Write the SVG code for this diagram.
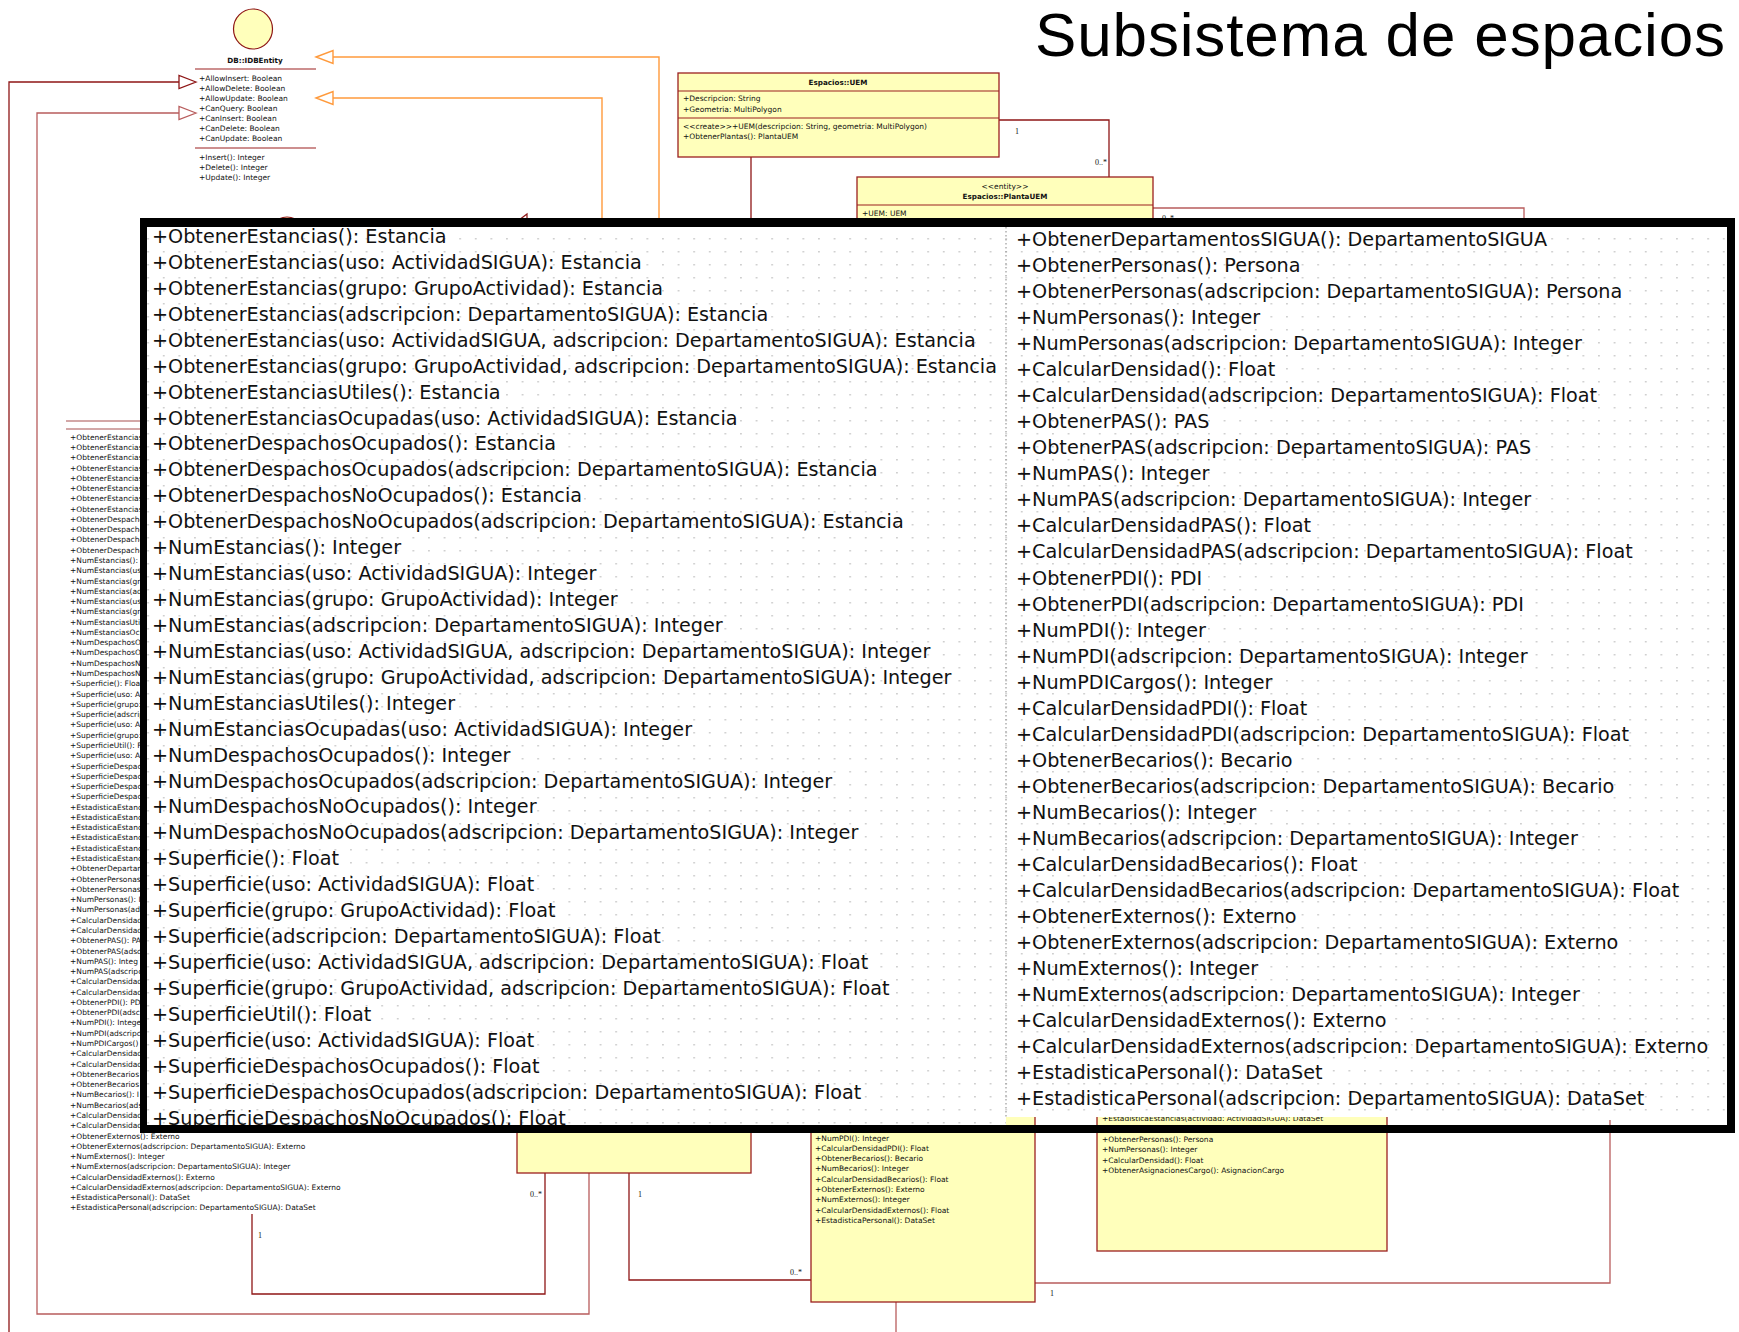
<svg xmlns="http://www.w3.org/2000/svg" width="1739" height="1332" viewBox="0 0 1739 1332">
<style>
.s{font-family:"DejaVu Sans",Verdana,sans-serif;font-size:7.5px;fill:#111}
.sb{font-family:"DejaVu Sans",Verdana,sans-serif;font-size:7.2px;font-weight:bold;fill:#111}
.ml{font-family:"Liberation Serif","Times New Roman",serif;font-size:8px;fill:#111}
.box{fill:#FFFFBB;stroke:#9b2020;stroke-width:1.3}
.sep{stroke:#9b2020;stroke-width:1.2}
.dk{fill:none;stroke:#8e1616;stroke-width:1.3}
.lt{fill:none;stroke:#b85c5c;stroke-width:1.3}
.or{fill:none;stroke:#FF9A3C;stroke-width:1.4}
.ov{font-family:"DejaVu Sans",Verdana,sans-serif;font-size:19.2px;fill:#111}
</style>
<defs>
<pattern id="dots" width="15.6" height="13" patternUnits="userSpaceOnUse"><rect x="7" y="4" width="1.5" height="1.5" fill="#c4c4c4"/></pattern>
<clipPath id="leftcut"><rect x="0" y="380" width="140" height="760"/></clipPath>
</defs>

<g id="title"><text x="1035" y="56" textLength="690" lengthAdjust="spacing" style="font-family:'Liberation Sans',Arial,sans-serif;font-size:62px;fill:#000">Subsistema de espacios</text></g>

<g id="connectors">
<polyline class="or" points="659,218 659,57 333,57"/>
<polygon points="316,57 333,50.5 333,63.5" fill="#fff" stroke="#FF9A3C" stroke-width="1.4"/>
<polyline class="or" points="602,218 602,98 333,98"/>
<polygon points="316,98 333,91.5 333,104.5" fill="#fff" stroke="#FF9A3C" stroke-width="1.4"/>
<polyline class="dk" points="9,1332 9,82 179,82"/>
<polygon points="196,82 179,75.5 179,88.5" fill="#fff" stroke="#8e1616" stroke-width="1.3"/>
<polyline class="lt" points="589,1173 589,1314 37,1314 37,113 179,113"/>
<polygon points="196,113 179,106.5 179,119.5" fill="#fff" stroke="#b85c5c" stroke-width="1.3"/>
<polyline class="dk" points="252,1214 252,1294 545,1294 545,1173"/>
<text class="ml" x="258" y="1238">1</text>
<text class="ml" x="542" y="1197" text-anchor="end">0..*</text>
<polyline class="dk" points="629,1173 629,1280 811,1280"/>
<text class="ml" x="638" y="1197">1</text>
<text class="ml" x="802" y="1275" text-anchor="end">0..*</text>
<polyline class="lt" points="896,1302 896,1332"/>
<polyline class="lt" points="1035,1283 1610,1283 1610,1120"/>
<text class="ml" x="1050" y="1296">1</text>
<polyline class="dk" points="751,157 751,220"/>
<polyline class="dk" points="999,120 1109,120 1109,177"/>
<text class="ml" x="1015" y="134">1</text>
<text class="ml" x="1107" y="165" text-anchor="end">0..*</text>
<polyline class="lt" points="1153,208 1524,208 1524,220"/>
<text class="ml" x="1162" y="221">0..*</text>
<polygon points="511,226 527,214 527,238" fill="#fff" stroke="#8e1616" stroke-width="1.2"/>
</g>

<g id="db-idbentity">
<ellipse cx="253" cy="29" rx="19.5" ry="20" fill="#FFFFBB" stroke="#8e1616" stroke-width="1.2"/>
<text class="sb" x="255" y="63" text-anchor="middle">DB::IDBEntity</text>
<line class="sep" x1="195" y1="69" x2="316" y2="69"/>
<text class="s" x="199" y="80.5">+AllowInsert: Boolean</text>
<text class="s" x="199" y="90.5">+AllowDelete: Boolean</text>
<text class="s" x="199" y="100.5">+AllowUpdate: Boolean</text>
<text class="s" x="199" y="110.5">+CanQuery: Boolean</text>
<text class="s" x="199" y="120.5">+CanInsert: Boolean</text>
<text class="s" x="199" y="130.5">+CanDelete: Boolean</text>
<text class="s" x="199" y="140.5">+CanUpdate: Boolean</text>
<line class="sep" x1="195" y1="148" x2="316" y2="148"/>
<text class="s" x="199" y="160">+Insert(): Integer</text>
<text class="s" x="199" y="170">+Delete(): Integer</text>
<text class="s" x="199" y="180">+Update(): Integer</text>
</g>

<g id="other-interface">
<ellipse cx="287" cy="240" rx="20" ry="23" fill="#FFFFBB" stroke="#8e1616" stroke-width="1.2"/>
</g>

<g id="uem">
<rect class="box" x="678" y="73" width="321" height="84"/>
<text class="sb" x="838" y="85" text-anchor="middle">Espacios::UEM</text>
<line class="sep" x1="678" y1="91" x2="999" y2="91"/>
<text class="s" x="683" y="101.3">+Descripcion: String</text>
<text class="s" x="683" y="112.3">+Geometria: MultiPolygon</text>
<line class="sep" x1="678" y1="118" x2="999" y2="118"/>
<text class="s" x="683" y="129">&lt;&lt;create&gt;&gt;+UEM(descripcion: String, geometria: MultiPolygon)</text>
<text class="s" x="683" y="139">+ObtenerPlantas(): PlantaUEM</text>
</g>

<g id="planta-uem">
<rect class="box" x="857" y="177" width="296" height="60"/>
<text class="s" x="1005" y="188.5" text-anchor="middle">&lt;&lt;entity&gt;&gt;</text>
<text class="sb" x="1005" y="198.7" text-anchor="middle">Espacios::PlantaUEM</text>
<line class="sep" x1="857" y1="205" x2="1153" y2="205"/>
<text class="s" x="862" y="216">+UEM: UEM</text>
</g>

<g id="estancias-class">
<line x1="66" y1="421" x2="160" y2="421" stroke="#a85050" stroke-width="1.2"/>
<line x1="66" y1="429" x2="160" y2="429" stroke="#a85050" stroke-width="1.2"/>
<g clip-path="url(#leftcut)">
<text class="s" x="70" y="439.7"><tspan x="70" dy="0">+ObtenerEstancias</tspan><tspan x="70" dy="10.276">+ObtenerEstancias</tspan><tspan x="70" dy="10.276">+ObtenerEstancias</tspan><tspan x="70" dy="10.276">+ObtenerEstancias</tspan><tspan x="70" dy="10.276">+ObtenerEstancias</tspan><tspan x="70" dy="10.276">+ObtenerEstancias</tspan><tspan x="70" dy="10.276">+ObtenerEstancias</tspan><tspan x="70" dy="10.276">+ObtenerEstancias</tspan><tspan x="70" dy="10.276">+ObtenerDespacho</tspan><tspan x="70" dy="10.276">+ObtenerDespacho</tspan><tspan x="70" dy="10.276">+ObtenerDespacho</tspan><tspan x="70" dy="10.276">+ObtenerDespacho</tspan><tspan x="70" dy="10.276">+NumEstancias(): I</tspan><tspan x="70" dy="10.276">+NumEstancias(us</tspan><tspan x="70" dy="10.276">+NumEstancias(gr</tspan><tspan x="70" dy="10.276">+NumEstancias(ad</tspan><tspan x="70" dy="10.276">+NumEstancias(us</tspan><tspan x="70" dy="10.276">+NumEstancias(gr</tspan><tspan x="70" dy="10.276">+NumEstanciasUtil</tspan><tspan x="70" dy="10.276">+NumEstanciasOcu</tspan><tspan x="70" dy="10.276">+NumDespachosOc</tspan><tspan x="70" dy="10.276">+NumDespachosOc</tspan><tspan x="70" dy="10.276">+NumDespachosNo</tspan><tspan x="70" dy="10.276">+NumDespachosNo</tspan><tspan x="70" dy="10.276">+Superficie(): Floa</tspan><tspan x="70" dy="10.276">+Superficie(uso: A</tspan><tspan x="70" dy="10.276">+Superficie(grupo:</tspan><tspan x="70" dy="10.276">+Superficie(adscrip</tspan><tspan x="70" dy="10.276">+Superficie(uso: A</tspan><tspan x="70" dy="10.276">+Superficie(grupo:</tspan><tspan x="70" dy="10.276">+SuperficieUtil(): F</tspan><tspan x="70" dy="10.276">+Superficie(uso: A</tspan><tspan x="70" dy="10.276">+SuperficieDespac</tspan><tspan x="70" dy="10.276">+SuperficieDespac</tspan><tspan x="70" dy="10.276">+SuperficieDespac</tspan><tspan x="70" dy="10.276">+SuperficieDespac</tspan><tspan x="70" dy="10.276">+EstadisticaEstanc</tspan><tspan x="70" dy="10.276">+EstadisticaEstanc</tspan><tspan x="70" dy="10.276">+EstadisticaEstanc</tspan><tspan x="70" dy="10.276">+EstadisticaEstanc</tspan><tspan x="70" dy="10.276">+EstadisticaEstanc</tspan><tspan x="70" dy="10.276">+EstadisticaEstanc</tspan><tspan x="70" dy="10.276">+ObtenerDepartam</tspan><tspan x="70" dy="10.276">+ObtenerPersonas</tspan><tspan x="70" dy="10.276">+ObtenerPersonas</tspan><tspan x="70" dy="10.276">+NumPersonas(): I</tspan><tspan x="70" dy="10.276">+NumPersonas(ad</tspan><tspan x="70" dy="10.276">+CalcularDensidad</tspan><tspan x="70" dy="10.276">+CalcularDensidad</tspan><tspan x="70" dy="10.276">+ObtenerPAS(): PA</tspan><tspan x="70" dy="10.276">+ObtenerPAS(adsc</tspan><tspan x="70" dy="10.276">+NumPAS(): Integ</tspan><tspan x="70" dy="10.276">+NumPAS(adscripc</tspan><tspan x="70" dy="10.276">+CalcularDensidad</tspan><tspan x="70" dy="10.276">+CalcularDensidad</tspan><tspan x="70" dy="10.276">+ObtenerPDI(): PD</tspan><tspan x="70" dy="10.276">+ObtenerPDI(adsc</tspan><tspan x="70" dy="10.276">+NumPDI(): Intege</tspan><tspan x="70" dy="10.276">+NumPDI(adscripc</tspan><tspan x="70" dy="10.276">+NumPDICargos()</tspan><tspan x="70" dy="10.276">+CalcularDensidad</tspan><tspan x="70" dy="10.276">+CalcularDensidad</tspan><tspan x="70" dy="10.276">+ObtenerBecarios</tspan><tspan x="70" dy="10.276">+ObtenerBecarios</tspan><tspan x="70" dy="10.276">+NumBecarios(): I</tspan><tspan x="70" dy="10.276">+NumBecarios(ads</tspan><tspan x="70" dy="10.276">+CalcularDensidad</tspan><tspan x="70" dy="10.276">+CalcularDensidad</tspan></text>
</g>
<text class="s" x="70" y="1138.5"><tspan x="70" dy="0">+ObtenerExternos(): Externo</tspan><tspan x="70" dy="10.276">+ObtenerExternos(adscripcion: DepartamentoSIGUA): Externo</tspan><tspan x="70" dy="10.276">+NumExternos(): Integer</tspan><tspan x="70" dy="10.276">+NumExternos(adscripcion: DepartamentoSIGUA): Integer</tspan><tspan x="70" dy="10.276">+CalcularDensidadExternos(): Externo</tspan><tspan x="70" dy="10.276">+CalcularDensidadExternos(adscripcion: DepartamentoSIGUA): Externo</tspan><tspan x="70" dy="10.276">+EstadisticaPersonal(): DataSet</tspan><tspan x="70" dy="10.276">+EstadisticaPersonal(adscripcion: DepartamentoSIGUA): DataSet</tspan></text>
</g>

<g id="box-a">
<rect class="box" x="517" y="1000" width="234" height="173"/>
</g>

<g id="box-b">
<rect class="box" x="811" y="1000" width="224" height="302"/>
<text class="s" x="815" y="1140.5"><tspan x="815" dy="0">+NumPDI(): Integer</tspan><tspan x="815" dy="10.3">+CalcularDensidadPDI(): Float</tspan><tspan x="815" dy="10.3">+ObtenerBecarios(): Becario</tspan><tspan x="815" dy="10.3">+NumBecarios(): Integer</tspan><tspan x="815" dy="10.3">+CalcularDensidadBecarios(): Float</tspan><tspan x="815" dy="10.3">+ObtenerExternos(): Externo</tspan><tspan x="815" dy="10.3">+NumExternos(): Integer</tspan><tspan x="815" dy="10.3">+CalcularDensidadExternos(): Float</tspan><tspan x="815" dy="10.3">+EstadisticaPersonal(): DataSet</tspan></text>
</g>

<g id="box-c">
<rect class="box" x="1097" y="1000" width="290" height="251"/>
<text class="s" x="1102" y="1121.4">+EstadisticaEstancias(actividad: ActividadSIGUA): DataSet</text>
<text class="s" x="1102" y="1142"><tspan x="1102" dy="0">+ObtenerPersonas(): Persona</tspan><tspan x="1102" dy="10.3">+NumPersonas(): Integer</tspan><tspan x="1102" dy="10.3">+CalcularDensidad(): Float</tspan><tspan x="1102" dy="10.3">+ObtenerAsignacionesCargo(): AsignacionCargo</tspan></text>
</g>

<g id="zoom-overlay">
<rect x="147" y="227" width="859" height="898" fill="#fff"/>
<rect x="1006" y="227" width="721" height="890" fill="#fff"/>
<rect x="147" y="227" width="859" height="898" fill="url(#dots)"/>
<rect x="1006" y="227" width="721" height="890" fill="url(#dots)"/>
<line x1="1006" y1="227" x2="1006" y2="1117" stroke="#9a9a9a" stroke-width="1.2" stroke-dasharray="1.5 2.5"/>
<text class="ov" x="152" y="243"><tspan x="152" dy="0">+ObtenerEstancias(): Estancia</tspan><tspan x="152" dy="25.93">+ObtenerEstancias(uso: ActividadSIGUA): Estancia</tspan><tspan x="152" dy="25.93">+ObtenerEstancias(grupo: GrupoActividad): Estancia</tspan><tspan x="152" dy="25.93">+ObtenerEstancias(adscripcion: DepartamentoSIGUA): Estancia</tspan><tspan x="152" dy="25.93">+ObtenerEstancias(uso: ActividadSIGUA, adscripcion: DepartamentoSIGUA): Estancia</tspan><tspan x="152" dy="25.93">+ObtenerEstancias(grupo: GrupoActividad, adscripcion: DepartamentoSIGUA): Estancia</tspan><tspan x="152" dy="25.93">+ObtenerEstanciasUtiles(): Estancia</tspan><tspan x="152" dy="25.93">+ObtenerEstanciasOcupadas(uso: ActividadSIGUA): Estancia</tspan><tspan x="152" dy="25.93">+ObtenerDespachosOcupados(): Estancia</tspan><tspan x="152" dy="25.93">+ObtenerDespachosOcupados(adscripcion: DepartamentoSIGUA): Estancia</tspan><tspan x="152" dy="25.93">+ObtenerDespachosNoOcupados(): Estancia</tspan><tspan x="152" dy="25.93">+ObtenerDespachosNoOcupados(adscripcion: DepartamentoSIGUA): Estancia</tspan><tspan x="152" dy="25.93">+NumEstancias(): Integer</tspan><tspan x="152" dy="25.93">+NumEstancias(uso: ActividadSIGUA): Integer</tspan><tspan x="152" dy="25.93">+NumEstancias(grupo: GrupoActividad): Integer</tspan><tspan x="152" dy="25.93">+NumEstancias(adscripcion: DepartamentoSIGUA): Integer</tspan><tspan x="152" dy="25.93">+NumEstancias(uso: ActividadSIGUA, adscripcion: DepartamentoSIGUA): Integer</tspan><tspan x="152" dy="25.93">+NumEstancias(grupo: GrupoActividad, adscripcion: DepartamentoSIGUA): Integer</tspan><tspan x="152" dy="25.93">+NumEstanciasUtiles(): Integer</tspan><tspan x="152" dy="25.93">+NumEstanciasOcupadas(uso: ActividadSIGUA): Integer</tspan><tspan x="152" dy="25.93">+NumDespachosOcupados(): Integer</tspan><tspan x="152" dy="25.93">+NumDespachosOcupados(adscripcion: DepartamentoSIGUA): Integer</tspan><tspan x="152" dy="25.93">+NumDespachosNoOcupados(): Integer</tspan><tspan x="152" dy="25.93">+NumDespachosNoOcupados(adscripcion: DepartamentoSIGUA): Integer</tspan><tspan x="152" dy="25.93">+Superficie(): Float</tspan><tspan x="152" dy="25.93">+Superficie(uso: ActividadSIGUA): Float</tspan><tspan x="152" dy="25.93">+Superficie(grupo: GrupoActividad): Float</tspan><tspan x="152" dy="25.93">+Superficie(adscripcion: DepartamentoSIGUA): Float</tspan><tspan x="152" dy="25.93">+Superficie(uso: ActividadSIGUA, adscripcion: DepartamentoSIGUA): Float</tspan><tspan x="152" dy="25.93">+Superficie(grupo: GrupoActividad, adscripcion: DepartamentoSIGUA): Float</tspan><tspan x="152" dy="25.93">+SuperficieUtil(): Float</tspan><tspan x="152" dy="25.93">+Superficie(uso: ActividadSIGUA): Float</tspan><tspan x="152" dy="25.93">+SuperficieDespachosOcupados(): Float</tspan><tspan x="152" dy="25.93">+SuperficieDespachosOcupados(adscripcion: DepartamentoSIGUA): Float</tspan><tspan x="152" dy="25.93">+SuperficieDespachosNoOcupados(): Float</tspan></text>
<text class="ov" x="1016" y="246"><tspan x="1016" dy="0">+ObtenerDepartamentosSIGUA(): DepartamentoSIGUA</tspan><tspan x="1016" dy="26.04">+ObtenerPersonas(): Persona</tspan><tspan x="1016" dy="26.04">+ObtenerPersonas(adscripcion: DepartamentoSIGUA): Persona</tspan><tspan x="1016" dy="26.04">+NumPersonas(): Integer</tspan><tspan x="1016" dy="26.04">+NumPersonas(adscripcion: DepartamentoSIGUA): Integer</tspan><tspan x="1016" dy="26.04">+CalcularDensidad(): Float</tspan><tspan x="1016" dy="26.04">+CalcularDensidad(adscripcion: DepartamentoSIGUA): Float</tspan><tspan x="1016" dy="26.04">+ObtenerPAS(): PAS</tspan><tspan x="1016" dy="26.04">+ObtenerPAS(adscripcion: DepartamentoSIGUA): PAS</tspan><tspan x="1016" dy="26.04">+NumPAS(): Integer</tspan><tspan x="1016" dy="26.04">+NumPAS(adscripcion: DepartamentoSIGUA): Integer</tspan><tspan x="1016" dy="26.04">+CalcularDensidadPAS(): Float</tspan><tspan x="1016" dy="26.04">+CalcularDensidadPAS(adscripcion: DepartamentoSIGUA): Float</tspan><tspan x="1016" dy="26.04">+ObtenerPDI(): PDI</tspan><tspan x="1016" dy="26.04">+ObtenerPDI(adscripcion: DepartamentoSIGUA): PDI</tspan><tspan x="1016" dy="26.04">+NumPDI(): Integer</tspan><tspan x="1016" dy="26.04">+NumPDI(adscripcion: DepartamentoSIGUA): Integer</tspan><tspan x="1016" dy="26.04">+NumPDICargos(): Integer</tspan><tspan x="1016" dy="26.04">+CalcularDensidadPDI(): Float</tspan><tspan x="1016" dy="26.04">+CalcularDensidadPDI(adscripcion: DepartamentoSIGUA): Float</tspan><tspan x="1016" dy="26.04">+ObtenerBecarios(): Becario</tspan><tspan x="1016" dy="26.04">+ObtenerBecarios(adscripcion: DepartamentoSIGUA): Becario</tspan><tspan x="1016" dy="26.04">+NumBecarios(): Integer</tspan><tspan x="1016" dy="26.04">+NumBecarios(adscripcion: DepartamentoSIGUA): Integer</tspan><tspan x="1016" dy="26.04">+CalcularDensidadBecarios(): Float</tspan><tspan x="1016" dy="26.04">+CalcularDensidadBecarios(adscripcion: DepartamentoSIGUA): Float</tspan><tspan x="1016" dy="26.04">+ObtenerExternos(): Externo</tspan><tspan x="1016" dy="26.04">+ObtenerExternos(adscripcion: DepartamentoSIGUA): Externo</tspan><tspan x="1016" dy="26.04">+NumExternos(): Integer</tspan><tspan x="1016" dy="26.04">+NumExternos(adscripcion: DepartamentoSIGUA): Integer</tspan><tspan x="1016" dy="26.04">+CalcularDensidadExternos(): Externo</tspan><tspan x="1016" dy="26.04">+CalcularDensidadExternos(adscripcion: DepartamentoSIGUA): Externo</tspan><tspan x="1016" dy="26.04">+EstadisticaPersonal(): DataSet</tspan><tspan x="1016" dy="26.04">+EstadisticaPersonal(adscripcion: DepartamentoSIGUA): DataSet</tspan></text>
<rect x="140" y="218" width="1595" height="9" fill="#000"/>
<rect x="140" y="218" width="7" height="915" fill="#000"/>
<rect x="1727" y="218" width="8" height="915" fill="#000"/>
<rect x="140" y="1125" width="1595" height="8" fill="#000"/>
</g>
</svg>
